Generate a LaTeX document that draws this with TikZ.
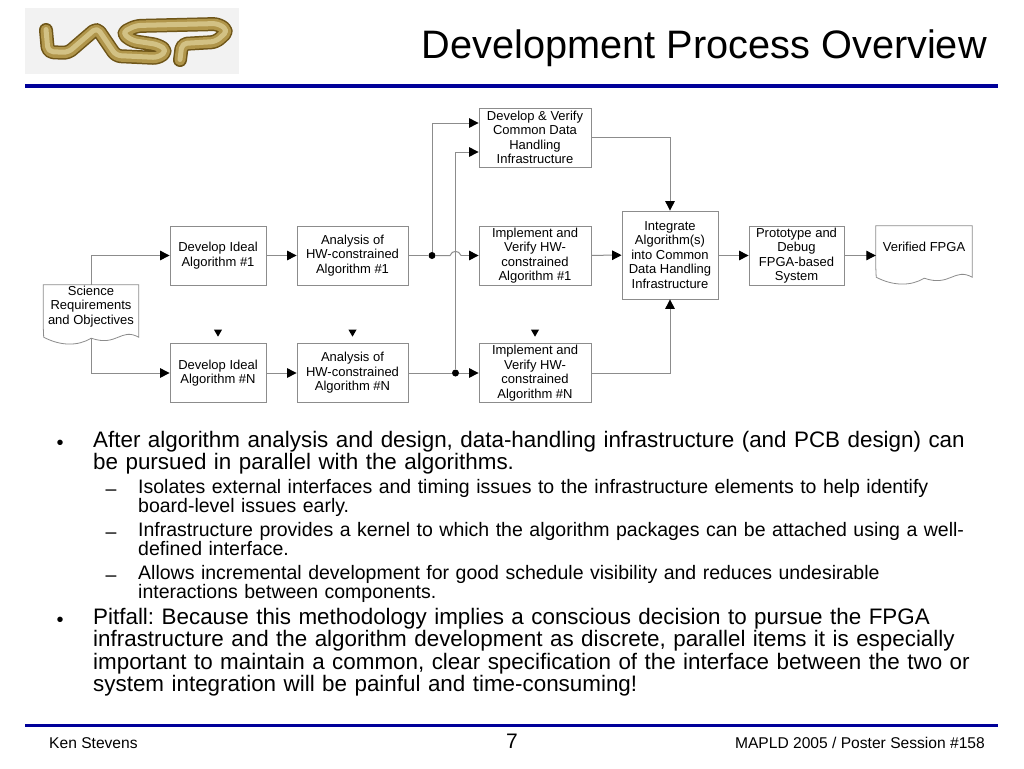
\documentclass[tikz,border=0pt]{standalone}
\usepackage{fontspec}
\setmainfont{Liberation Sans}
\usetikzlibrary{arrows.meta,calc,shapes.geometric}
\definecolor{rulenavy}{HTML}{000099}
\definecolor{flowgray}{HTML}{8C8C8C}
\definecolor{logodark}{HTML}{6E5518}
\definecolor{logomid}{HTML}{B0954A}
\definecolor{logolight}{HTML}{D2C184}
\tikzset{
	flowbox/.style={draw=flowgray, line width=0.8pt, align=center, inner sep=0pt, font=\fontsize{13}{14.5}\selectfont},
	flowdoc/.style={align=center, inner sep=0pt, font=\fontsize{13}{14.5}\selectfont},
	flowline/.style={draw=flowgray, line width=1pt},
	flowarrow/.style={flowline, -{Triangle[length=9.5pt,width=9.5pt,color=black]}},
	joint/.style={circle, fill=black, inner sep=0pt, minimum size=7pt},
	marker/.style={isosceles triangle, isosceles triangle apex angle=60, shape border rotate=-90, fill=black, inner sep=0pt, minimum size=7pt},
	bulletone/.style={anchor=north west, inner sep=0pt, text width=900pt, align=left, font=\fontsize{22.4}{22.4}\selectfont\frenchspacing},
	bullettwo/.style={anchor=north west, inner sep=0pt, text width=860pt, align=left, font=\fontsize{19.5}{19.3}\selectfont\frenchspacing},
	logostroke/.style={line cap=round, line join=round, rounded corners=5pt}
}
\def\logopath{(46,30) -- (48,52) -- (68,53) -- (97,28) -- (116,56) -- (158,58) -- (167,51) -- (158,45) -- (132,41) -- (122,33) -- (136,26) -- (218,24) -- (228,31) -- (216,42) -- (182,44) -- (180,60)}

\begin{document}
\begin{tikzpicture}[x=1pt, y=-1pt]
		%%%%% START %%%%%
		\useasboundingbox (0, 0) rectangle (1024, 768);
		\fill[white] (0, 0) rectangle (1024, 768);
		
		% logo
		\fill[black!5] (25, 8) rectangle (239, 74);
		\draw[logostroke, line width=14pt, color=logodark] \logopath;
		\draw[logostroke, line width=11pt, color=logomid] \logopath;
		\draw[logostroke, line width=5pt, color=logolight, yshift=0.5pt] \logopath;
		
		% title and rules
		\node[anchor=east, inner sep=0pt, font=\fontsize{39.7}{44}\selectfont] (title) at (987, 48) {Development Process Overview};
		\fill[rulenavy] (25, 84) rectangle (998, 87.5);
		\fill[rulenavy] (25, 723.5) rectangle (998, 727);
		
		% flow boxes
		\node[flowbox, minimum width=96pt, minimum height=59pt] (idealone) at (218, 255.5) {Develop Ideal\\Algorithm \#1};
		\node[flowbox, minimum width=111pt, minimum height=59pt] (analysisone) at (352.5, 255.5) {Analysis of\\HW-constrained\\Algorithm \#1};
		\node[flowbox, minimum width=96pt, minimum height=59pt] (idealn) at (218, 373) {Develop Ideal\\Algorithm \#N};
		\node[flowbox, minimum width=111pt, minimum height=59pt] (analysisn) at (352.5, 373) {Analysis of\\HW-constrained\\Algorithm \#N};
		\node[flowbox, minimum width=112pt, minimum height=59pt] (common) at (535, 137.5) {Develop \& Verify\\Common Data\\Handling\\Infrastructure};
		\node[flowbox, minimum width=112pt, minimum height=59pt] (implone) at (535, 255.5) {Implement and\\Verify HW-\\constrained\\Algorithm \#1};
		\node[flowbox, minimum width=112pt, minimum height=59pt] (impln) at (535, 373) {Implement and\\Verify HW-\\constrained\\Algorithm \#N};
		\node[flowbox, minimum width=96pt, minimum height=88pt] (integrate) at (670, 255) {Integrate\\Algorithm(s)\\into Common\\Data Handling\\Infrastructure};
		\node[flowbox, minimum width=95pt, minimum height=59pt] (proto) at (796.5, 255.5) {Prototype and\\Debug\\FPGA-based\\System};
		
		% documents
		\node[flowdoc, minimum width=95pt, minimum height=43pt] (science) at (91, 306.5) {Science\\Requirements\\and Objectives};
		\draw[flowline, line width=0.8pt] (science.south west) -- (science.north west) -- (science.north east) -- (science.south east) -- ++(0, 9)
			.. controls +(-18, -10) and +(26, 9) .. ++(-47.5, 1) coordinate (sciencewave)
			.. controls +(-13, 8) and +(17, 9) .. ++(-47.5, -1) -- (science.south west);
		\node[flowdoc, minimum width=96pt, minimum height=42pt] (verified) at (924, 247) {Verified FPGA};
		\draw[flowline, line width=0.8pt] (verified.south west) -- (verified.north west) -- (verified.north east) -- (verified.south east) -- ++(0, 9)
			.. controls +(-18, -10) and +(26, 9) .. ++(-48, 1)
			.. controls +(-13, 8) and +(17, 9) .. ++(-48, -1) -- (verified.south west);
		
		% markers
		\node[marker] (markerideal) at (218, 332) {};
		\node[marker] (markeranalysis) at (352.5, 332) {};
		\node[marker] (markerimpl) at (535, 332) {};
		
		% joints
		\node[joint] (jointone) at (432, 255.5) {};
		\node[joint] (jointn) at (455.5, 373) {};
		\coordinate (hopin) at (450, 255.5);
		\coordinate (hopout) at (461, 255.5);
		
		% connectors
		\draw[flowarrow] (science.north) |- (idealone.west);
		\draw[flowarrow] (sciencewave) |- (idealn.west);
		\draw[flowarrow] (idealone) -- (analysisone);
		\draw[flowarrow] (idealn) -- (analysisn);
		\draw[flowline] (analysisone) -- (jointone);
		\draw[flowline] (analysisn) -- (jointn);
		\draw[flowarrow] (jointone) |- (common.west |- 0, 123);
		\draw[flowarrow] (jointn) |- (common.west |- 0, 152);
		\draw[flowline] (jointone) -- (hopin) .. controls +(2, -5.5) and +(-2, -5.5) .. (hopout);
		\draw[flowarrow] (hopout) -- (implone);
		\draw[flowarrow] (jointn) -- (impln);
		\draw[flowarrow] (common.east) -| (integrate.north);
		\draw[flowarrow] (implone) -- (integrate);
		\draw[flowarrow] (impln.east) -| (integrate.south);
		\draw[flowarrow] (integrate.east |- proto) -- (proto);
		\draw[flowarrow] (proto) -- (verified.west |- proto);
		
		% bullet text
		\node[anchor=base, inner sep=0pt, font=\fontsize{20}{22}\selectfont] (dotone) at (60, 449) {•};
		\node[bulletone] (textone) at (93, 431) {After algorithm analysis and design, data-handling infrastructure (and PCB design) can\\be pursued in parallel with the algorithms.};
		\node[anchor=base, inner sep=0pt, font=\fontsize{19.5}{19}\selectfont] (dashone) at (111, 495) {–};
		\node[bullettwo] (subone) at (138, 479) {Isolates external interfaces and timing issues to the infrastructure elements to help identify\\board-level issues early.};
		\node[anchor=base, inner sep=0pt, font=\fontsize{19.5}{19}\selectfont] (dashtwo) at (111, 538) {–};
		\node[bullettwo] (subtwo) at (138, 522) {Infrastructure provides a kernel to which the algorithm packages can be attached using a well-\\defined interface.};
		\node[anchor=base, inner sep=0pt, font=\fontsize{19.5}{19}\selectfont] (dashthree) at (111, 581) {–};
		\node[bullettwo] (subthree) at (138, 565) {Allows incremental development for good schedule visibility and reduces undesirable\\interactions between components.};
		\node[anchor=base, inner sep=0pt, font=\fontsize{20}{22}\selectfont] (dottwo) at (60, 626) {•};
		\node[bulletone] (texttwo) at (93, 608) {Pitfall: Because this methodology implies a conscious decision to pursue the FPGA\\infrastructure and the algorithm development as discrete, parallel items it is especially\\important to maintain a common, clear specification of the interface between the two or\\system integration will be painful and time-consuming!};
		
		% footer
		\node[anchor=base west, inner sep=0pt, font=\fontsize{15.6}{16}\selectfont] (author) at (49, 748) {Ken Stevens};
		\node[anchor=base, inner sep=0pt, font=\fontsize{21}{22}\selectfont] (pagenum) at (512, 748) {7};
		\node[anchor=base east, inner sep=0pt, font=\fontsize{15.6}{16}\selectfont] (venue) at (985, 748) {MAPLD 2005 / Poster Session \#158};
		%%%%% END %%%%%
	\end{tikzpicture}
\end{document}
